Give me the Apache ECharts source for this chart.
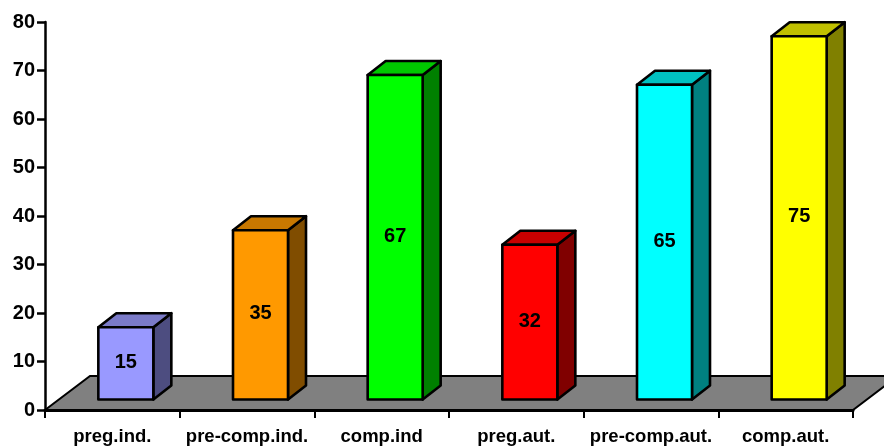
<!DOCTYPE html>
<html lang="en">
<head>
    <meta charset="utf-8">
    <title>chart</title>
    <script src="https://cdn.jsdelivr.net/npm/echarts@6/dist/echarts.min.js"></script>
    <style>
        html, body, #main {
            width: 100%;
            height: 100%;
            margin: 0;
            padding: 0;
            overflow: hidden;
            background-color: #ffffff;
        }
    </style>
</head>
<body>
<div id="main"></div>
<script>
    var categories = ['preg.ind.', 'pre-comp.ind.', 'comp.ind', 'preg.aut.', 'pre-comp.aut.', 'comp.aut.'];
    var values = [15, 35, 67, 32, 65, 75];

    // front, top, side of each bar
    var frontColors = ['#9999ff', '#ff9900', '#00ff00', '#ff0000', '#00ffff', '#ffff00'];
    var topColors = ['#7a7ac8', '#c87800', '#00c800', '#c80000', '#00c0c0', '#c0c000'];
    var sideColors = ['#4d4d80', '#804d00', '#008000', '#800000', '#008080', '#808000'];

    var font = '"Liberation Sans", Arial, sans-serif';
    var lineStyle = {stroke: '#000000', lineWidth: 2.6, lineJoin: 'round'};

    function renderFloor(params, api) {
        var box = params.coordSys;
        var bottom = box.y + box.height;
        return {
            type: 'polygon',
            shape: {
                points: [
                    [box.x, bottom],
                    [box.x + 45, bottom - 34],
                    [box.x + box.width + 45, bottom - 34],
                    [box.x + box.width, bottom]
                ]
            },
            style: {fill: '#808080', stroke: '#000000', lineWidth: 2}
        };
    }

    function renderBar(params, api) {
        var i = api.value(0);
        var top = api.coord([i, api.value(1)]);
        var w = 55, dx = 18, dy = 14, lift = 10.5, shift = 13.5;
        var x0 = top[0] + shift - w / 2;
        var x1 = x0 + w;
        var y0 = top[1] - 10;
        var y1 = api.coord([i, 0])[1] - lift;
        return {
            type: 'group',
            children: [
                {
                    type: 'polygon',
                    shape: {points: [[x1, y0], [x1 + dx, y0 - dy], [x1 + dx, y1 - dy], [x1, y1]]},
                    style: Object.assign({fill: sideColors[i]}, lineStyle)
                },
                {
                    type: 'polygon',
                    shape: {points: [[x0, y0], [x0 + dx, y0 - dy], [x1 + dx, y0 - dy], [x1, y0]]},
                    style: Object.assign({fill: topColors[i]}, lineStyle)
                },
                {
                    type: 'rect',
                    shape: {x: x0, y: y0, width: w, height: y1 - y0},
                    style: Object.assign({fill: frontColors[i]}, lineStyle)
                },
                {
                    type: 'text',
                    style: {
                        x: (x0 + x1) / 2,
                        y: (y0 + y1) / 2 - 1,
                        text: String(api.value(1)),
                        fill: '#000000',
                        font: 'bold 20px ' + font,
                        align: 'center',
                        verticalAlign: 'middle'
                    }
                }
            ]
        };
    }

    var myChart = echarts.init(document.getElementById('main'));
    myChart.setOption({
        animation: false,
        grid: {left: 45, right: 31, top: 22, bottom: 37},
        xAxis: {
            type: 'category',
            data: categories,
            z: 5,
            axisLine: {lineStyle: {color: '#000000', width: 3}},
            axisTick: {show: true, alignWithLabel: false, length: 8, lineStyle: {color: '#000000', width: 2}},
            axisLabel: {color: '#000000', fontFamily: font, fontWeight: 'bold', fontSize: 18.5, margin: 17, interval: 0}
        },
        yAxis: {
            type: 'value',
            min: 0,
            max: 80,
            interval: 10,
            z: 5,
            splitLine: {show: false},
            axisLine: {show: true, lineStyle: {color: '#000000', width: 2.5}},
            axisTick: {show: true, length: 8, lineStyle: {color: '#000000', width: 2.5}},
            axisLabel: {color: '#000000', fontFamily: font, fontWeight: 'bold', fontSize: 20, margin: 10}
        },
        series: [
            {
                type: 'custom',
                z: 1,
                clip: false,
                renderItem: renderFloor,
                data: [[0, 0]]
            },
            {
                type: 'custom',
                z: 2,
                clip: false,
                renderItem: renderBar,
                encode: {x: 0, y: 1},
                data: values.map(function (v, i) {
                    return [i, v];
                })
            }
        ]
    });
</script>
</body>
</html>
